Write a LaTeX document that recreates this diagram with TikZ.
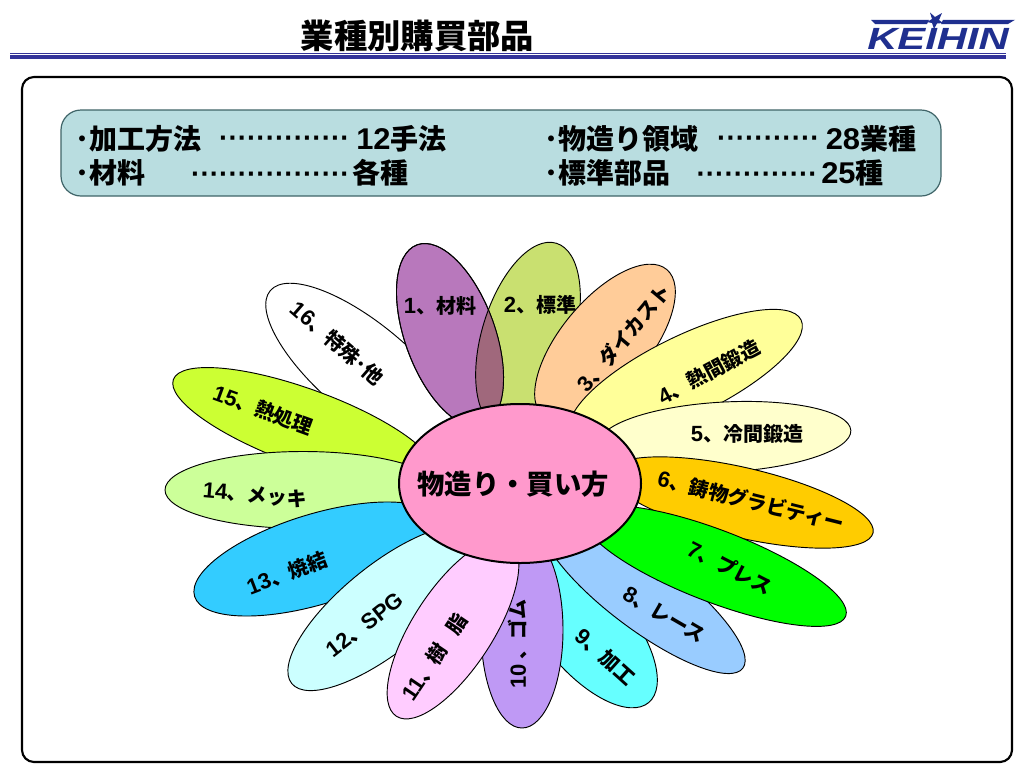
\documentclass[tikz,border=0pt]{standalone}
\usepackage{fontspec}
\usetikzlibrary{shapes.geometric}
\setmainfont{Liberation Sans}
\newfontfamily\cjkb{Noto Sans CJK JP}
\newfontfamily\latb{Liberation Sans}[FakeStretch=1.03]
\definecolor{navy}{HTML}{333399}
\definecolor{logoblue}{HTML}{1F2F8F}
\definecolor{boxc}{HTML}{B9DDE0}
\definecolor{boxedge}{HTML}{3F6468}
\definecolor{overlapc}{HTML}{A0687C}
\definecolor{centerc}{HTML}{FF99CC}
\definecolor{petalA}{HTML}{B878BC}
\definecolor{petalB}{HTML}{C9E070}
\definecolor{petalC}{HTML}{FFCC99}
\definecolor{petalD}{HTML}{FFFF99}
\definecolor{petalE}{HTML}{FFFFCC}
\definecolor{petalF}{HTML}{FFCC00}
\definecolor{petalG}{HTML}{00FF00}
\definecolor{petalH}{HTML}{99CCFF}
\definecolor{petalI}{HTML}{66FFFF}
\definecolor{petalJ}{HTML}{BF99F5}
\definecolor{petalK}{HTML}{FFCCFF}
\definecolor{petalL}{HTML}{CCFFFF}
\definecolor{petalM}{HTML}{33CCFF}
\definecolor{petalN}{HTML}{CCFF99}
\definecolor{petalO}{HTML}{CCFF33}
\tikzset{
  petal/.style={draw=black,line width=0.7pt,ellipse,inner sep=0pt,outer sep=0pt},
  plabel/.style={inner sep=0pt,font=\fontsize{15}{15}\selectfont\cjkb\bfseries,text=black},
  boxtext/.style={inner sep=0pt,font=\fontsize{21}{21}\selectfont\cjkb\bfseries,text=black},
  dotrun/.style={inner sep=0pt,anchor=east,font=\fontsize{21}{21}\selectfont\bfseries,text=black},
}
\newcommand{\petalnode}[7]{% name,cx,cy,a,b,rot,color
  \node[petal,fill=#7,minimum width={#4*1.5pt},minimum height={#5*1.5pt},rotate=#6] (#1) at (#2,#3) {};}
\newcommand{\dg}[1]{{\fontsize{16.5}{15}\selectfont\rmfamily\bfseries #1}}
\newcommand{\bdg}[1]{{\fontsize{22.5}{21}\selectfont\latb\bfseries #1}}
\begin{document}
\begin{tikzpicture}[x=0.75pt,y=-0.75pt]
\useasboundingbox (0,0) rectangle (1024,768);
\fill[white] (0,0) rectangle (1024,768);
% title
\node[inner sep=0pt,font=\fontsize{25}{25}\selectfont\cjkb\bfseries] (title) at (417.5,36) {業種別購買部品};
% header lines
\fill[navy] (10,52.6) rectangle (1006,53.6);
\fill[navy] (10,55) rectangle (1006,59.3);
% logo
\fill[logoblue] (871,19.8) -- (929,19.8) -- (927,24) -- (875,24) -- cycle;
\fill[logoblue] (943,19.8) -- (1015,19.8) -- (1008,24) -- (941,24) -- cycle;
\fill[logoblue] (930,12.5) -- (935,17) -- (942,13) -- (939,20) -- (943,23) -- (937,23.5) -- (934,29) -- (932,23) -- (927,22) -- (932,19) -- cycle;
\node[inner sep=0pt,anchor=center,font=\fontsize{23}{23}\selectfont\bfseries\itshape,text=logoblue,xscale=1.36] (logo) at (938,39) {KEIHIN};
% frame
\draw[black,line width=1.6pt,rounded corners=9pt] (22,77) rectangle (1012,762);
% top box
\draw[draw=boxedge,fill=boxc,line width=0.9pt,rounded corners=15pt] (61,110) rectangle (941,196);
\node[boxtext,anchor=west] (a1) at (75,139) {･加工方法};
\node[dotrun] (a2) at (350,142) {··············};
\node[boxtext,anchor=west] (a3) at (356,139) {\bdg{12}手法};
\node[boxtext,anchor=west] (b1) at (75,173) {･材料};
\node[dotrun] (b2) at (350,178) {·················};
\node[boxtext,anchor=west] (b3) at (352,173) {各種};
\node[boxtext,anchor=west] (c1) at (544,139) {･物造り領域};
\node[dotrun] (c2) at (820,142) {···········};
\node[boxtext,anchor=west] (c3) at (825.5,139) {\bdg{28}業種};
\node[boxtext,anchor=west] (d1) at (544,173) {･標準部品};
\node[dotrun] (d2) at (818,178) {·············};
\node[boxtext,anchor=west] (d3) at (821,173) {\bdg{25}種};
% petals
\petalnode{p2}{528}{336}{97}{46}{73}{petalB}
\petalnode{p3}{605}{343}{96}{44}{50}{petalC}
\petalnode{p4}{686}{376}{128}{40}{26}{petalD}
\petalnode{p5}{725}{437}{126}{35}{3}{petalE}
\petalnode{p6}{741.5}{502.5}{135}{35}{-13}{petalF}
\petalnode{p9}{587}{629}{96}{44}{-50}{petalI}
\petalnode{p8}{643}{593}{125}{36}{-37}{petalH}
\petalnode{p7}{715}{566}{140}{36}{-21}{petalG}
\petalnode{p10}{522}{630}{98}{41}{90}{petalJ}
\petalnode{p16}{366}{371}{125}{46}{-40}{white}
\petalnode{p15}{304}{427}{139}{38}{-20}{petalO}
\petalnode{p14}{303}{490}{138}{38.5}{0}{petalN}
\petalnode{p13}{317}{559}{128}{45}{17}{petalM}
\petalnode{p12}{385}{608}{120}{43}{39}{petalL}
\petalnode{p11}{453}{629}{104}{40}{57}{petalK}
\petalnode{p1}{450}{335}{96}{45}{110}{petalA}
% overlap of petals 1 and 2
\begin{scope}
  \clip[shift={(450,335)},rotate=110] (0,0) ellipse [x radius=72pt,y radius=33.75pt];
  \node[petal,fill=overlapc,minimum width={97*1.5pt},minimum height={46*1.5pt},rotate=73] (ov) at (528,336) {};
\end{scope}
\draw[black,line width=0.7pt,shift={(450,335)},rotate=110] (0,0) ellipse [x radius=72pt,y radius=33.75pt];
% centre
\node[draw=black,fill=centerc,ellipse,line width=1.5pt,inner sep=0pt,outer sep=0pt,minimum width={121*1.5pt},minimum height={79.5*1.5pt}] (hub) at (520,483.5) {};
\node[inner sep=0pt,font=\fontsize{20.5}{20.5}\selectfont\cjkb\bfseries] (hubtext) at (513,484) {物造り・買い方};
% labels
\node[plabel] (l1) at (440,306) {\dg{1}、材料};
\node[plabel] (l2) at (540,305) {\dg{2}、標準};
\node[plabel,rotate=50] (l3) at (624,338) {\dg{3}、ダイカスト};
\node[plabel,rotate=28] (l4) at (709,372) {\dg{4}、熱間鍛造};
\node[plabel] (l5) at (747,434) {\dg{5}、冷間鍛造};
\node[plabel,rotate=-14] (l6) at (751,501) {\dg{6}、鋳物グラビティー};
\node[plabel,rotate=-27] (l7) at (730,568) {\dg{7}、プレス};
\node[plabel,rotate=-30] (l8) at (664,615) {\dg{8}、レース};
\node[plabel,rotate=-42] (l9) at (605,657) {\dg{9}、加工};
\node[plabel,rotate=90] (l10) at (518,644) {\dg{10}\hspace{0.2em}、ゴム};
\node[plabel,rotate=56] (l11) at (435,657) {\dg{11}、樹\hspace{0.8em}脂};
\node[plabel,rotate=38] (l12) at (365,625) {\dg{12}、\dg{SPG}};
\node[plabel,rotate=21] (l13) at (287,573) {\dg{13}、焼結};
\node[plabel,rotate=-5] (l14) at (255,495) {\dg{14}、メッキ};
\node[plabel,rotate=-20] (l15) at (263,410) {\dg{15}、熱処理};
\node[plabel,rotate=-41] (l16) at (337,343) {\dg{16}、特殊･他};
\end{tikzpicture}
\end{document}
